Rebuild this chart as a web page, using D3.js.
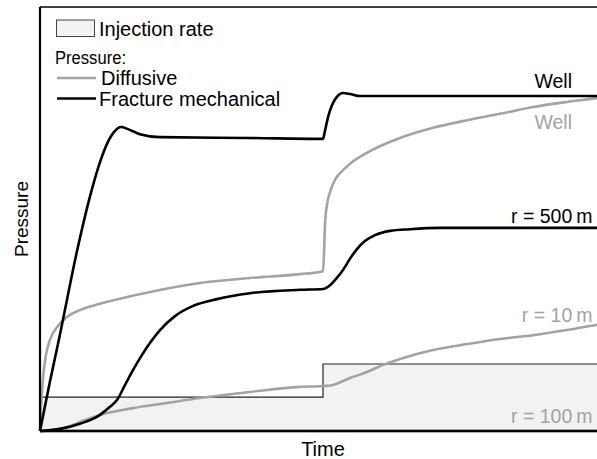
<!DOCTYPE html>
<html>
<head>
<meta charset="utf-8">
<script src="https://cdn.jsdelivr.net/npm/d3@7"></script>
<style>
body { margin: 0; background: #fff; }
text { font-family: "Liberation Sans", Arial, sans-serif; }
</style>
</head>
<body>
<svg id="chart" width="597" height="459"></svg>
<script>
// time in units of the injection step (step happens at t = 1), pressure in arbitrary units
var injection = [[0, 8.0], [1, 8.0], [1, 15.8], [2, 15.8]];

var fracWell = [[0,0],[0.035,11.6],[0.071,22.9],[0.131,42.5],[0.177,55.4],[0.212,63.4],[0.240,68.2],
  [0.265,70.8],[0.286,71.7],[0.311,71.2],[0.353,70.0],[0.424,69.3],[0.742,69.1],[1.000,68.9],
  [1.007,70.8],[1.018,74.1],[1.032,76.9],[1.049,78.8],[1.071,79.7],[1.095,79.5],[1.131,79.0],[2.0,79.0]];

var diffWell = [[0,0],[0.004,6.1],[0.011,12.7],[0.021,17.9],[0.035,21.5],[0.064,24.8],[0.095,26.9],
  [0.141,28.5],[0.212,30.0],[0.389,32.8],[0.565,34.9],[0.742,36.1],[0.919,37.0],[1.000,37.7],
  [1.004,42.7],[1.007,48.6],[1.014,53.3],[1.025,56.4],[1.042,59.2],[1.060,60.8],[1.095,63.0],
  [1.155,65.6],[1.272,69.1],[1.389,71.5],[1.509,73.3],[1.625,74.8],[1.742,76.4],[1.862,77.6],
  [1.968,78.5],[2.0,78.8]];

var frac500 = [[0,0],[0.071,0.5],[0.141,1.7],[0.212,3.8],[0.247,5.7],[0.272,7.3],[0.300,10.8],
  [0.329,14.4],[0.360,17.9],[0.389,20.8],[0.424,23.8],[0.477,27.1],[0.541,29.5],[0.625,31.1],
  [0.742,32.5],[0.919,33.3],[1.000,33.5],[1.025,34.4],[1.049,36.1],[1.071,38.0],[1.095,40.6],
  [1.120,42.9],[1.148,44.8],[1.184,46.2],[1.237,47.2],[1.307,47.6],[1.413,47.9],[2.0,47.9]];

var diff10 = [[0,0],[0.035,0.2],[0.095,0.9],[0.152,2.4],[0.212,3.8],[0.329,5.4],[0.449,6.6],
  [0.565,7.8],[0.742,9.2],[0.919,10.4],[1.000,10.6],[1.032,10.8],[1.095,12.5],[1.155,13.9],
  [1.212,15.6],[1.272,17.0],[1.389,19.1],[1.509,20.5],[1.625,21.7],[1.742,22.6],[1.862,23.8],
  [1.968,25.0],[2.0,25.2]];

var diff100 = [[0,0],[2.0,0]];

// curve labels: text, time where the label ends, pressure of the baseline
var labels = [
  ["Well", 1.880, 80.9, "frac"],
  ["Well", 1.880, 71.2, "diff"],
  ["r = 500\u2009m", 1.952, 49.1, "frac"],
  ["r = 10\u2009m", 1.952, 25.7, "diff"],
  ["r = 100\u2009m", 1.952, 1.9, "diff"]
];

var svg = d3.select("#chart");
var x = d3.scaleLinear().domain([0, 2]).range([40, 606]);
var y = d3.scaleLinear().domain([0, 100]).range([431, 7]);

var grey = "#a3a3a3";
var col = {frac: "#000", diff: grey};

// injection rate area
svg.append("path")
  .datum(injection)
  .attr("d", d3.area().x(d => x(d[0])).y0(y(0)).y1(d => y(d[1])))
  .attr("fill", "#f2f2f2")
  .attr("stroke", "none");
svg.append("path")
  .datum(injection)
  .attr("d", d3.line().x(d => x(d[0])).y(d => y(d[1])))
  .attr("fill", "none")
  .attr("stroke", "#222")
  .attr("stroke-width", 1.2);

var line = d3.line().x(d => x(d[0])).y(d => y(d[1])).curve(d3.curveMonotoneX);

function curve(data, c) {
  svg.append("path")
    .datum(data)
    .attr("d", line)
    .attr("fill", "none")
    .attr("stroke", c)
    .attr("stroke-width", 2.6)
    .attr("stroke-linejoin", "round");
}
curve(diff100, grey);
curve(diff10, grey);
curve(diffWell, grey);
curve(frac500, "#000");
curve(fracWell, "#000");

// frame: left + bottom axes thick, top thin
svg.append("line").attr("x1", x(0)).attr("x2", x(0)).attr("y1", y(100)).attr("y2", y(0))
  .attr("stroke", "#000").attr("stroke-width", 2.2);
svg.append("line").attr("x1", x(0)).attr("x2", x(2)).attr("y1", y(0)).attr("y2", y(0))
  .attr("stroke", "#000").attr("stroke-width", 2.6);
svg.append("line").attr("x1", x(0)).attr("x2", x(2)).attr("y1", y(100)).attr("y2", y(100))
  .attr("stroke", "#000").attr("stroke-width", 1.6);

svg.selectAll(".lab").data(labels).join("text")
  .attr("class", "lab")
  .attr("x", d => x(d[1])).attr("y", d => y(d[2]))
  .attr("text-anchor", "end").attr("fill", d => col[d[3]])
  .style("font-size", "19.5px").text(d => d[0]);

// axis titles
svg.append("text").attr("x", x(1)).attr("y", 456).attr("text-anchor", "middle")
  .style("font-size", "20px").text("Time");
svg.append("text").attr("transform", "translate(28," + y(50) + ") rotate(-90)")
  .attr("text-anchor", "middle").style("font-size", "19px").text("Pressure");

// legend
var lg = svg.append("g");
lg.append("rect").attr("x", 56.5).attr("y", 20).attr("width", 38).attr("height", 16.5)
  .attr("fill", "#f2f2f2").attr("stroke", "#444").attr("stroke-width", 1);
lg.append("text").attr("x", 99).attr("y", 36).style("font-size", "20px").text("Injection rate");
lg.append("text").attr("x", 55).attr("y", 63.5).style("font-size", "17.5px")
  .attr("textLength", 71).attr("lengthAdjust", "spacingAndGlyphs").text("Pressure:");
lg.append("line").attr("x1", 57).attr("x2", 96).attr("y1", 78).attr("y2", 78)
  .attr("stroke", grey).attr("stroke-width", 2.6);
lg.append("text").attr("x", 101).attr("y", 84.5).style("font-size", "20px").text("Diffusive");
lg.append("line").attr("x1", 57).attr("x2", 96).attr("y1", 98.5).attr("y2", 98.5)
  .attr("stroke", "#000").attr("stroke-width", 2.6);
lg.append("text").attr("x", 99).attr("y", 105.5).style("font-size", "20px").text("Fracture mechanical");
</script>
</body>
</html>
